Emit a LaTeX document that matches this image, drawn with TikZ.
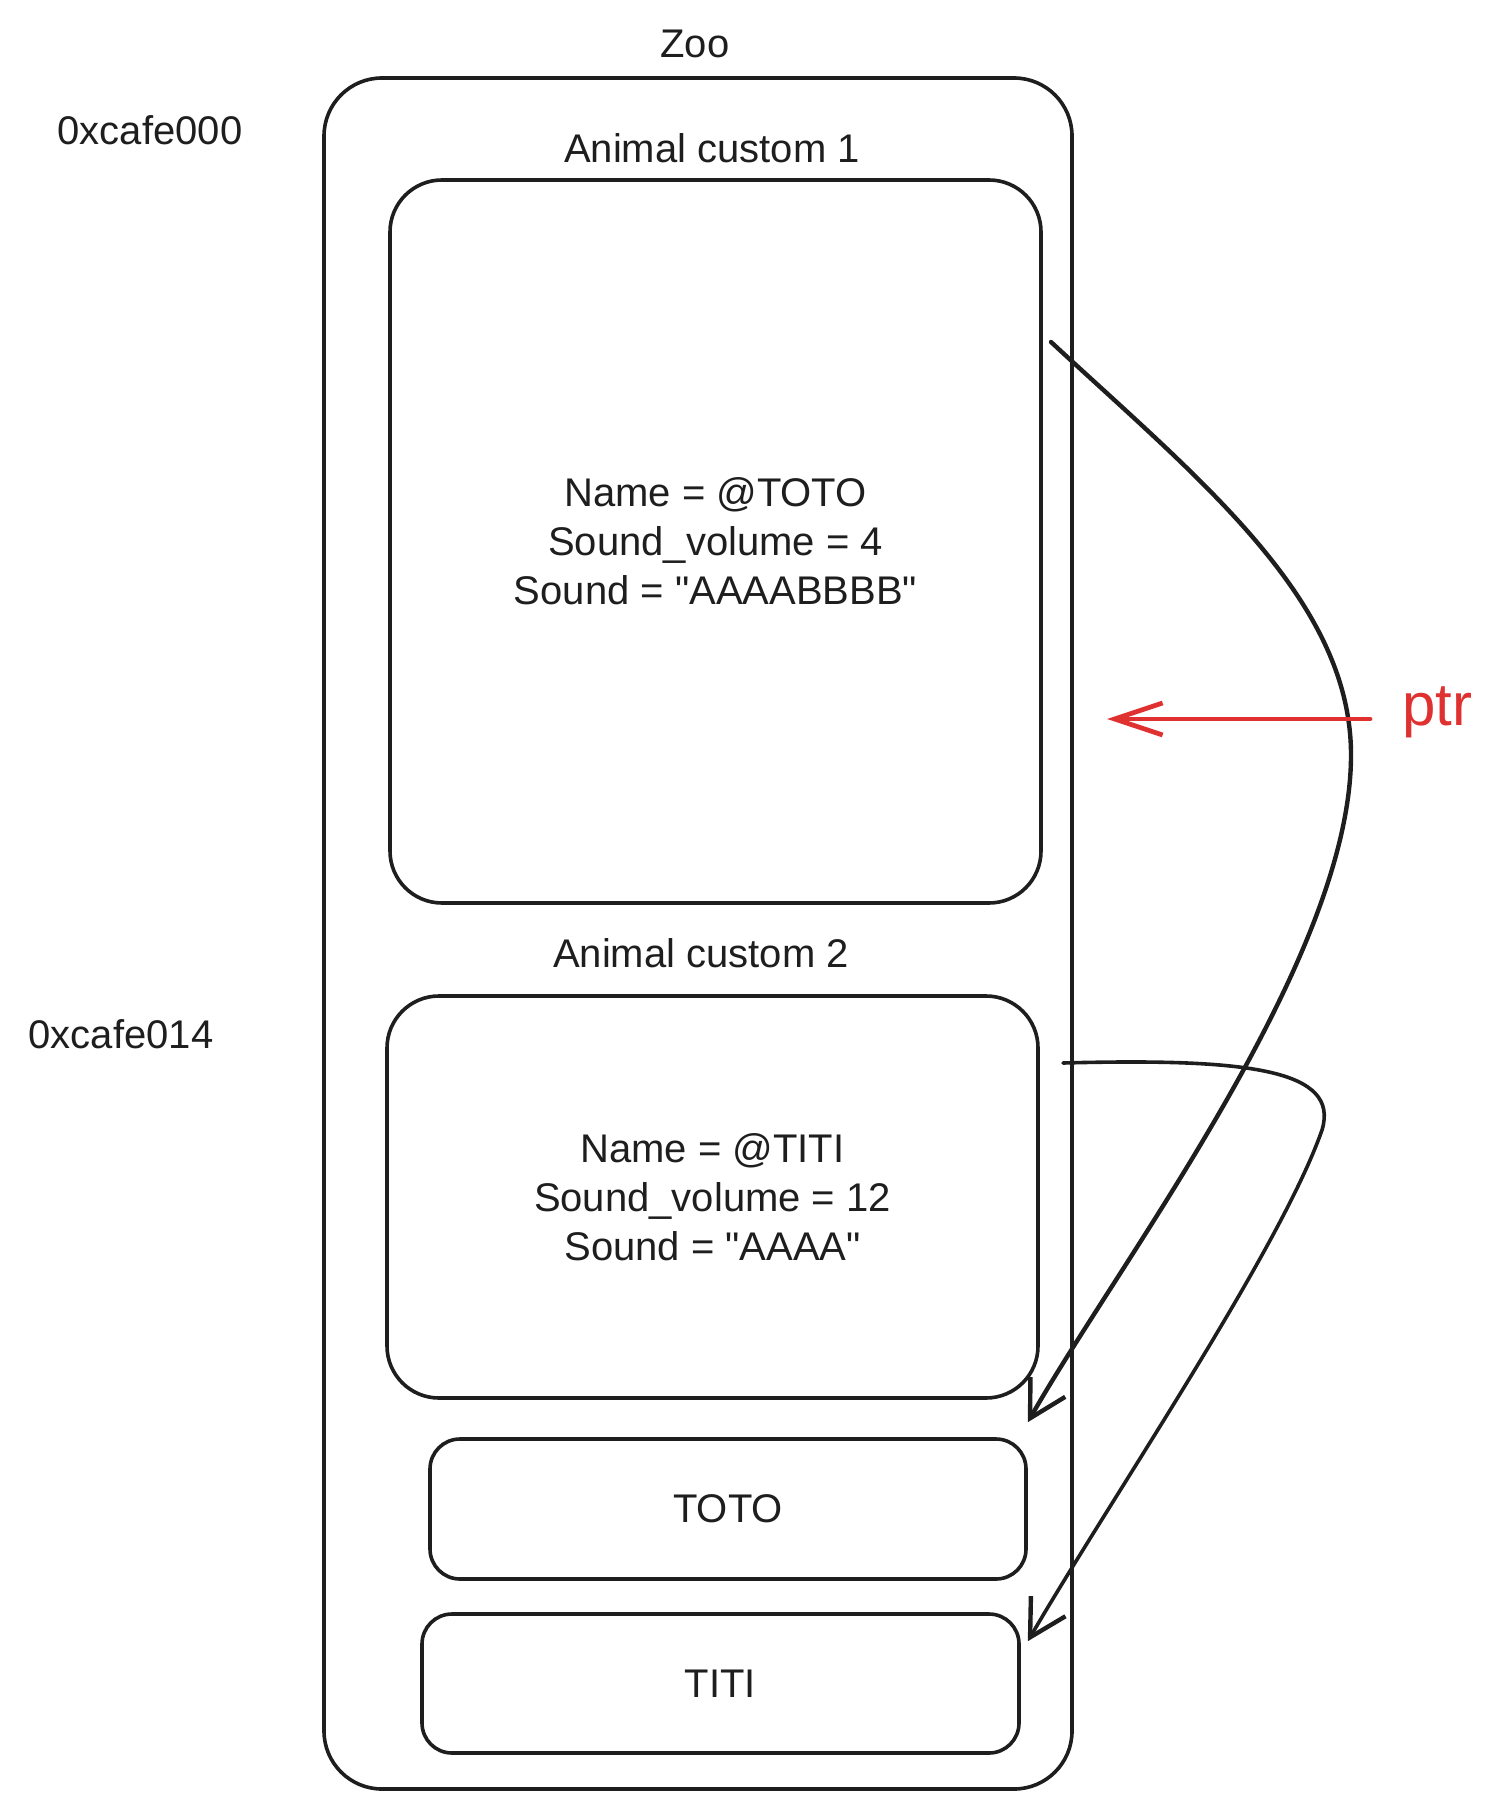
\documentclass[tikz,border=0pt]{standalone}
\usepackage{fontspec}
\setmainfont{Liberation Sans}[Ligatures=TeXOff]
\usetikzlibrary{arrows.meta}
\definecolor{ink}{HTML}{1E1E1E}
\definecolor{redink}{HTML}{E03131}
\newcommand{\dq}{\symbol{34}}
\begin{document}
\begin{tikzpicture}[x=0.5pt,y=-0.5pt,
  box/.style={draw=ink, line width=1.8pt, align=center, inner sep=0pt, text=ink,
              font=\fontsize{20}{24.5}\selectfont},
  lbl/.style={text=ink, font=\fontsize{20}{24}\selectfont, inner sep=0pt},
  link/.style={draw=ink, line width=2.2pt, line cap=round, line join=round,
               -{Straight Barb[length=18pt,width=20pt,line width=2.2pt]}},
  ptrlink/.style={draw=redink, line width=2.4pt, line cap=round,
               -{Straight Barb[length=24pt,width=16pt,line width=2.4pt]}}]
\useasboundingbox (0,0) rectangle (1501,1807);

% outer container
\node[box, rounded corners=29pt, minimum width=374pt, minimum height=855.5pt] (zoo) at (698,933.5) {};
\node[lbl] (zoolbl) at (695,44) {Zoo};

% address labels
\node[lbl] (addr0) at (150,130) {0xcafe000};
\node[lbl] (addr1) at (121,1034) {0xcafe014};

% animal 1
\node[lbl] (a1lbl) at (712,148) {Animal custom 1};
\node[box, rounded corners=26pt, minimum width=325.5pt, minimum height=361.5pt] (b1) at (715.5,541.5)
  {Name = @TOTO\\Sound\_volume = 4\\Sound = \dq AAAABBBB\dq};

% animal 2
\node[lbl] (a2lbl) at (701,953) {Animal custom 2};
\node[box, rounded corners=26pt, minimum width=325.5pt, minimum height=201pt] (b2) at (712.5,1197)
  {Name = @TITI\\Sound\_volume = 12\\Sound = \dq AAAA\dq};

% strings
\node[box, rounded corners=15pt, minimum width=298pt, minimum height=70pt] (toto) at (728,1509) {TOTO};
\node[box, rounded corners=15pt, minimum width=298.5pt, minimum height=69.5pt] (titi) at (720.5,1683.5) {TITI};

% pointer label
\node[text=redink, font=\fontsize{30}{30}\selectfont, inner sep=0pt] (ptr) at (1437,712) {ptr};

% connector endpoints
\coordinate (c1) at (1051,342);
\coordinate (c2) at (1063,1063);
\coordinate (t1) at ([yshift=7.5pt]toto.north east);
\coordinate (t2) at ([xshift=3.5pt,yshift=-14.5pt]titi.north east);
\coordinate (p0) at (1370,719);
\coordinate (p1) at (1107,719);

% connectors
\draw[link] (c1) .. controls (1200,480) and (1351,600) .. (1351,755)
            .. controls (1351,960) and (1120,1260) .. (t1);
\draw[link, line width=1.8pt] (c2) .. controls (1250,1058) and (1340,1070) .. (1322,1130)
            .. controls (1280,1250) and (1110,1500) .. (t2);
\draw[ptrlink] (p0) -- (p1);
\end{tikzpicture}
\end{document}
